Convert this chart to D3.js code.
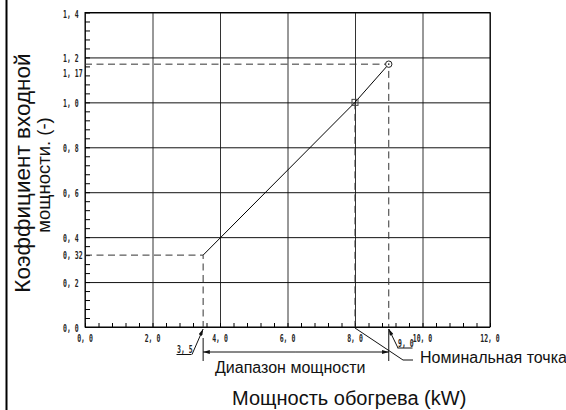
<!DOCTYPE html>
<html>
<head>
<meta charset="utf-8">
<script src="https://cdn.jsdelivr.net/npm/d3@7"></script>
<style>
    body { margin: 0; background: #fff; }
    svg { display: block; }
    .tick-lbl { font-family: "DejaVu Sans Mono", monospace; font-size: 10.5px; font-weight: bold; fill: #222; }
    .note { font-family: "Liberation Sans", Arial, sans-serif; fill: #111; }
</style>
</head>
<body>
<svg id="chart"></svg>
<script>
(function(){
    "use strict";

    // values
    var xTicks = [0, 2, 4, 6, 8, 10, 12];
    var xTickLabels = ["0, 0", "2, 0", "4, 0", "6, 0", "8, 0", "10, 0", "12, 0"];
    var yTicks = [0, 0.2, 0.4, 0.6, 0.8, 1.0, 1.2, 1.4];
    var yTickLabels = ["0, 0", "0, 2", "0, 4", "0, 6", "0, 8", "1, 0", "1, 2", "1, 4"];
    var markY = [0.32, 1.17];
    var markYLabels = ["0, 32", "1, 17"];
    var capX = [3.5, 8.0, 9.0];
    var coefY = [0.32, 1.0, 1.17];
    var rangeFrom = 3.5, rangeTo = 9.0;
    var rangeLabels = ["3, 5", "9, 0"];

    var width = 566,
        height = 410,
        sx = 0.62;

    var svg = d3.select("svg#chart")
        .attr("width", width)
        .attr("height", height);

    var x = d3.scaleLinear().domain([0, 12]).range([85, 490]);
    var y = d3.scaleLinear().domain([0, 1.4]).range([327, 12.5]);

    var defs = svg.append("defs");
    defs.append("marker")
        .attr("id", "arr")
        .attr("viewBox", "0 0 10 6")
        .attr("refX", 10).attr("refY", 3)
        .attr("markerWidth", 9).attr("markerHeight", 4)
        .attr("markerUnits", "userSpaceOnUse")
        .attr("orient", "auto")
        .append("path")
        .attr("d", "M0,0 L10,3 L0,6 Z")
        .attr("fill", "#111");

    // left border bar
    svg.append("rect")
        .attr("x", 5.5).attr("y", 0)
        .attr("width", 2).attr("height", height)
        .attr("fill", "#000");

    // grid
    var g = svg.append("g");
    g.append("g")
        .attr("transform", "translate(0," + y(0) + ")")
        .call(d3.axisBottom(x).tickValues(xTicks).tickSize(y(0) - y(1.4)).tickFormat(""))
        .call(function(s){ s.select(".domain").remove(); })
        .selectAll("line").attr("transform", "translate(0," + (y(1.4) - y(0)) + ")")
        .attr("stroke", "#333");
    g.append("g")
        .attr("transform", "translate(" + x(0) + ",0)")
        .call(d3.axisRight(y).tickValues(yTicks).tickSize(x(12) - x(0)).tickFormat(""))
        .call(function(s){ s.select(".domain").remove(); })
        .selectAll("line").attr("stroke", "#111");

    // minor ticks
    g.append("g")
        .attr("transform", "translate(0," + y(0) + ")")
        .call(d3.axisBottom(x).tickValues(d3.range(0, 12.01, 0.4)).tickSizeInner(-4).tickSizeOuter(0).tickFormat(""))
        .call(function(s){ s.select(".domain").remove(); });
    g.append("g")
        .attr("transform", "translate(" + x(0) + ",0)")
        .call(d3.axisLeft(y).tickValues(d3.range(0, 1.401, 0.04)).tickSizeInner(-5).tickSizeOuter(0).tickFormat(""))
        .call(function(s){ s.select(".domain").remove(); });

    g.append("rect")
        .attr("x", x(0)).attr("y", y(1.4))
        .attr("width", x(12) - x(0)).attr("height", y(0) - y(1.4))
        .attr("fill", "none").attr("stroke", "#000");

    // tick labels
    svg.selectAll("text.xl")
        .data(xTicks)
        .enter().append("text")
        .attr("class", "tick-lbl")
        .attr("transform", function(d) { return "translate(" + x(d) + ",342) scale(" + sx + ",1)"; })
        .attr("text-anchor", "middle")
        .text(function(d, i) { return xTickLabels[i]; });

    svg.selectAll("text.yl")
        .data(yTicks)
        .enter().append("text")
        .attr("class", "tick-lbl")
        .attr("transform", function(d) { return "translate(63," + (y(d) + 5) + ") scale(" + sx + ",1)"; })
        .text(function(d, i) { return yTickLabels[i]; });

    svg.selectAll("text.ml")
        .data(markY)
        .enter().append("text")
        .attr("class", "tick-lbl")
        .attr("transform", function(d, i) { return "translate(63," + (y(d) + (i === 1 ? 12.5 : 4)) + ") scale(" + sx + ",1)"; })
        .text(function(d, i) { return markYLabels[i]; });

    // dashed guides
    var dash = "7,4.5";
    var guides = [
        [[0, coefY[0]], [capX[0], coefY[0]], [capX[0], 0]],
        [[0, coefY[2]], [capX[2], coefY[2]], [capX[2], 0]],
        [[capX[1], coefY[1]], [capX[1], 0]]
    ];
    svg.selectAll("path.guide")
        .data(guides)
        .enter().append("path")
        .attr("d", d3.line().x(function(d) { return x(d[0]); }).y(function(d) { return y(d[1]); }))
        .attr("fill", "none")
        .attr("stroke", "#333")
        .attr("stroke-dasharray", dash);

    // characteristic line
    var pts = capX.map(function(v, i) { return [v, coefY[i]]; });
    svg.append("path")
        .datum(pts)
        .attr("d", d3.line().x(function(d) { return x(d[0]); }).y(function(d) { return y(d[1]); }))
        .attr("fill", "none")
        .attr("stroke", "#000");

    svg.append("rect")
        .attr("x", x(capX[1]) - 3).attr("y", y(coefY[1]) - 3)
        .attr("width", 6).attr("height", 6)
        .attr("fill", "none").attr("stroke", "#444");
    svg.append("circle")
        .attr("cx", x(capX[2])).attr("cy", y(coefY[2]))
        .attr("r", 3.2)
        .attr("fill", "#fff").attr("stroke", "#222");
    svg.append("circle")
        .attr("cx", x(capX[2])).attr("cy", y(coefY[2]))
        .attr("r", 0.8)
        .attr("fill", "#222");

    // range dimension
    var dimY = 352;
    svg.selectAll("line.ext")
        .data([rangeFrom, rangeTo])
        .enter().append("line")
        .attr("x1", function(d) { return x(d); }).attr("x2", function(d) { return x(d); })
        .attr("y1", function(d, i) { return i === 0 ? 338 : 329; }).attr("y2", 361)
        .attr("stroke", "#111");
    var mid = (x(rangeFrom) + x(rangeTo)) / 2;
    svg.append("line")
        .attr("x1", mid).attr("x2", x(rangeFrom))
        .attr("y1", dimY).attr("y2", dimY)
        .attr("stroke", "#111").attr("marker-end", "url(#arr)");
    svg.append("line")
        .attr("x1", mid).attr("x2", x(rangeTo))
        .attr("y1", dimY).attr("y2", dimY)
        .attr("stroke", "#111").attr("marker-end", "url(#arr)");

    // value callouts
    var call = [
        {v: rangeFrom, tx: 177, ty: 353, ex: 192, ey: 354.5, tipY: 329},
        {v: rangeTo, tx: 398, ty: 346.5, ex: 398, ey: 348, tipY: 329}
    ];
    call.forEach(function(c, i) {
        svg.append("text")
            .attr("class", "tick-lbl")
            .attr("transform", "translate(" + c.tx + "," + c.ty + ") scale(" + sx + ",1)")
            .text(rangeLabels[i]);
        svg.append("line")
            .attr("x1", c.tx - 0.5).attr("x2", c.tx + 14.5)
            .attr("y1", c.ey).attr("y2", c.ey)
            .attr("stroke", "#111");
        svg.append("line")
            .attr("x1", c.ex).attr("y1", c.ey)
            .attr("x2", x(c.v)).attr("y2", c.tipY)
            .attr("stroke", "#111").attr("marker-end", "url(#arr)");
    });

    // nominal point leader
    svg.append("path")
        .attr("d", "M413,360 L403,360 L" + x(capX[1]) + ",328")
        .attr("fill", "none")
        .attr("stroke", "#111");
    svg.append("text")
        .attr("class", "note")
        .attr("x", 420).attr("y", 363)
        .style("font-size", "16px")
        .text("Номинальная точка");

    svg.append("text")
        .attr("class", "note")
        .attr("x", 215).attr("y", 373)
        .style("font-size", "16px")
        .text("Диапазон мощности");

    svg.append("text")
        .attr("class", "note")
        .attr("x", 232).attr("y", 405)
        .style("font-size", "20px")
        .text("Мощность обогрева (kW)");

    var yl = svg.append("text")
        .attr("class", "note")
        .attr("transform", "translate(0,173) rotate(-90)")
        .attr("text-anchor", "middle");
    yl.append("tspan").attr("x", 0).attr("y", 30).style("font-size", "22.5px").text("Коэффициент входной");
    yl.append("tspan").attr("x", -2).attr("y", 50).style("font-size", "18.5px").text("мощности. (-)");
})();
</script>
</body>
</html>
